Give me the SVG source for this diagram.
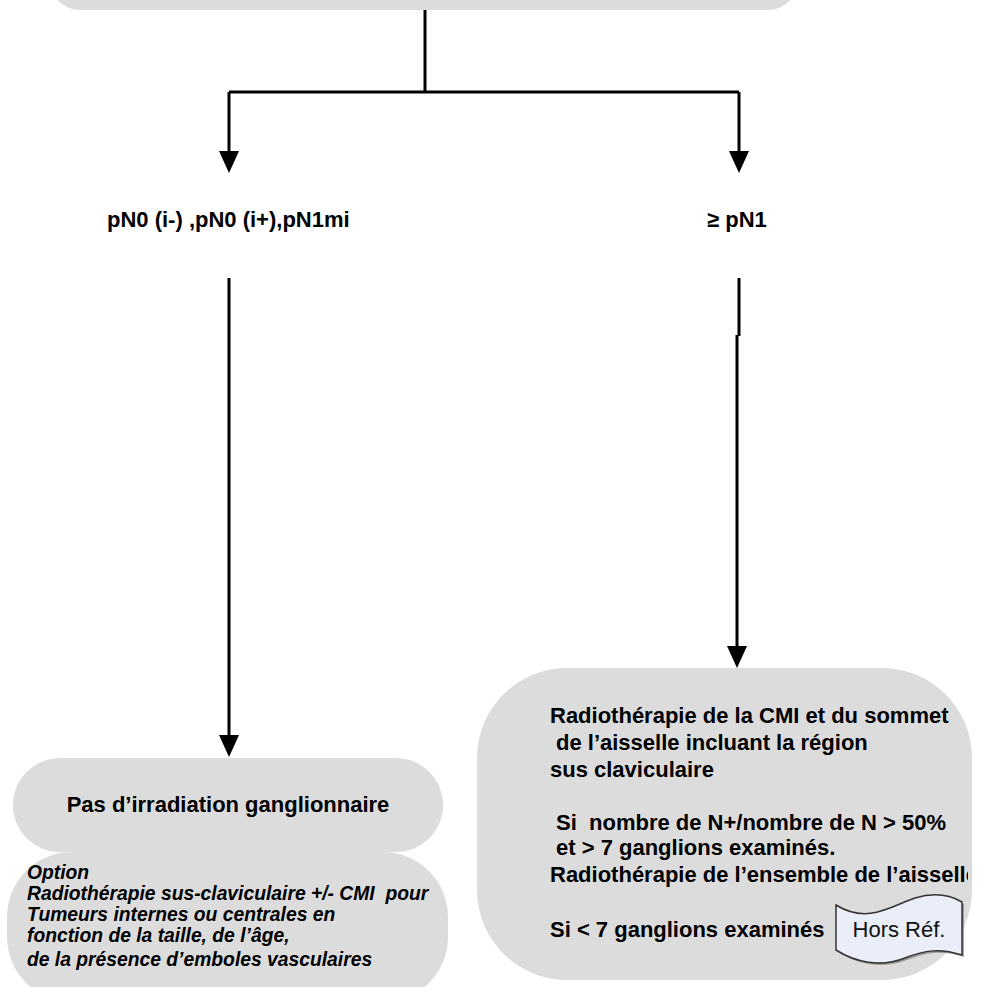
<svg xmlns="http://www.w3.org/2000/svg" width="981" height="987" viewBox="0 0 981 987">
<style>
.box{fill:#dcdcdc;}
.t{font-family:"Liberation Sans",Arial,sans-serif;font-size:22px;font-weight:bold;fill:#000;}
.ti{font-family:"Liberation Sans",Arial,sans-serif;font-size:19.3px;font-weight:bold;font-style:italic;fill:#000;}
.c{fill:none;stroke:#000;stroke-width:3;}
.hr{font-family:"Liberation Sans",Arial,sans-serif;font-size:22px;fill:#111;}
</style>
<defs>
<clipPath id="rclip"><rect x="0" y="0" width="968" height="987"/></clipPath>
</defs>
<rect width="981" height="987" fill="#fff"/>

<g id="top-node">
<rect class="box" x="50" y="-60" width="748" height="70" rx="30"/>
</g>

<g id="connectors">
<path class="c" d="M425,10 V92"/>
<path class="c" d="M229,92 H739"/>
<path class="c" d="M229,92 V151"/>
<polygon points="219,151 239,151 229,173" fill="#000"/>
<path class="c" d="M739,92 V151"/>
<polygon points="729,151 749,151 739,173" fill="#000"/>
<path class="c" d="M229,278 V736"/>
<polygon points="219,735 239,735 229,757" fill="#000"/>
<path class="c" d="M739,278 V336"/>
<path class="c" d="M737,335 V647"/>
<polygon points="727,646 747,646 737,668" fill="#000"/>
</g>

<g id="label-left">
<text class="t" x="107" y="227">pN0 (i-) ,pN0 (i+),pN1mi</text>
</g>
<g id="label-right">
<text class="t" x="707" y="227">≥ pN1</text>
</g>

<g id="node-pas">
<rect class="box" x="13" y="758" width="430" height="94" rx="47"/>
<text class="t" x="228" y="812" text-anchor="middle">Pas d’irradiation ganglionnaire</text>
</g>

<g id="node-option">
<rect class="box" x="7" y="852" width="441" height="150" rx="65"/>
<text class="ti" x="27" y="879">Option</text>
<text class="ti" x="27" y="900" xml:space="preserve">Radiothérapie sus-claviculaire +/- CMI  pour</text>
<text class="ti" x="27" y="921">Tumeurs internes ou centrales en</text>
<text class="ti" x="27" y="942">fonction de la taille, de l’âge,</text>
<text class="ti" x="27" y="966">de la présence d’emboles vasculaires</text>
</g>

<g id="node-radio">
<rect class="box" x="477" y="668" width="495" height="312" rx="90"/>
<g clip-path="url(#rclip)">
<text class="t" x="550" y="723">Radiothérapie de la CMI et du sommet</text>
<text class="t" x="556" y="750">de l’aisselle incluant la région</text>
<text class="t" x="550" y="777">sus claviculaire</text>
<text class="t" x="556" y="830" xml:space="preserve">Si  nombre de N+/nombre de N &gt; 50%</text>
<text class="t" x="556" y="855">et &gt; 7 ganglions examinés.</text>
<text class="t" x="550" y="882">Radiothérapie de l’ensemble de l’aisselle</text>
<text class="t" x="550" y="937">Si &lt; 7 ganglions examinés</text>
</g>
</g>

<g id="node-horsref">
<path d="M838,907 C870,927 895,907 917,900 C937,894 952,897 964,904 L964,957 C942,950 927,952 907,960 C882,970 857,964 838,952 Z" fill="#555" opacity="0.5"/>
<path d="M836,905 C868,925 893,905 915,898 C935,892 950,895 962,902 L962,955 C940,948 925,950 905,958 C880,968 855,962 836,950 Z" fill="#e9eef8" stroke="#333" stroke-width="1.5"/>
<text class="hr" x="899" y="937" text-anchor="middle">Hors Réf.</text>
</g>
</svg>
